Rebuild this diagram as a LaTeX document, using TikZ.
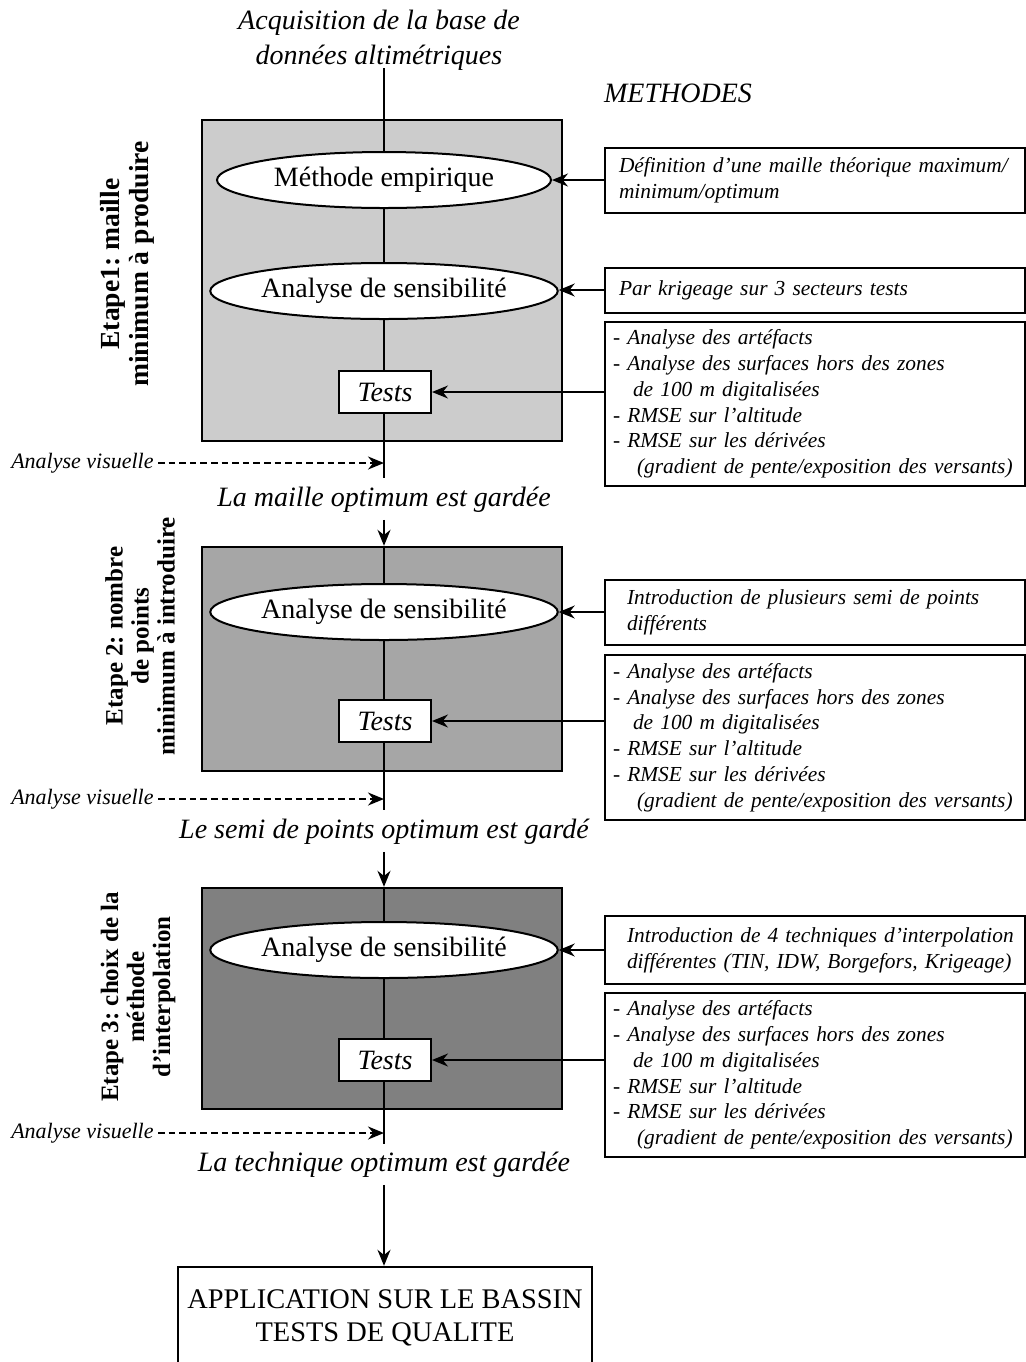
\documentclass[tikz,border=0pt]{standalone}
\usepackage{fontspec}
\setmainfont{Liberation Serif}
\usetikzlibrary{arrows.meta,shapes.geometric}
\frenchspacing

\tikzset{
  stagebox/.style={draw,line width=1.2pt,minimum width=180pt,inner sep=0pt},
  oval/.style={ellipse,draw,line width=1pt,fill=white,minimum width=167pt,
    minimum height=28pt,inner sep=0pt,font=\fontsize{14}{16}\selectfont},
  testbox/.style={draw,line width=1pt,fill=white,minimum width=46pt,
    minimum height=21pt,inner sep=0pt,font=\itshape\fontsize{14}{16}\selectfont},
  note/.style={draw,line width=1pt,anchor=west,minimum width=210pt,text width=208pt,
    inner xsep=1pt,inner ysep=0pt,align=left,font=\itshape\fontsize{10.7}{12.9}\selectfont},
  steplabel/.style={rotate=90,align=center,font=\bfseries\fontsize{12.5}{13}\selectfont},
  keep/.style={align=center,font=\itshape\fontsize{14}{17.5}\selectfont},
  visual/.style={anchor=east,inner sep=0pt,font=\itshape\fontsize{11}{12}\selectfont},
  flow/.style={line width=1pt},
  link/.style={line width=0.7pt,->},
  hint/.style={line width=1pt,dash pattern=on 3.3pt off 2pt,->},
}

\begin{document}
\begin{tikzpicture}[>={Stealth[length=8pt,width=6.5pt]},x=0.5pt,y=-0.5pt]
  \useasboundingbox (0,0) rectangle (1026,1362);
  % grey panels of the three stages
  \node[stagebox,fill=black!20,minimum height=160.5pt] (p1) at (382,280.5) {};
  \node[stagebox,fill=black!35,minimum height=112pt] (p2) at (382,659) {};
  \node[stagebox,fill=black!50,minimum height=110.5pt] (p3) at (382,998.5) {};
  % header
  \node[keep] (acq) at (379,40) {Acquisition de la base de\\données altimétriques};
  \node[keep] (meth) at (678,93) {METHODES};
  % stage labels (rotated)
  \node[steplabel,font=\bfseries\fontsize{13.8}{14.5}\selectfont] (s1) at (127,264)
    {Etape1: maille\\minimum à produire};
  \node[steplabel] (s2) at (140,636) {Etape 2: nombre\\de points\\minimum à introduire};
  \node[steplabel] (s3) at (138,997) {Etape 3: choix de la\\méthode\\d'interpolation};

  % stage 1
  \node[oval] (emp) at (384,180) {Méthode empirique};
  \node[oval] (sens1) at (384,291) {Analyse de sensibilité};
  \node[testbox] (tst1) at (385,392) {Tests};
  \coordinate (in1) at (384,68);
  \coordinate (out1) at (384,478);
  \draw[flow] (in1) -- (emp) (emp) -- (sens1) (sens1) -- (tst1.north -| in1) (tst1.south -| in1) -- (out1);
  \node[note,minimum height=32.5pt] (n1) at (604,180)
    {\hspace*{6pt}Définition d'une maille théorique maximum/\\\hspace*{6pt}minimum/optimum};
  \node[note,minimum height=22.5pt] (n2) at (604,290)
    {\hspace*{6pt}Par krigeage sur 3 secteurs tests};
  \node[note,minimum height=82pt] (n3) at (604,404)
    {\hspace*{3pt}- Analyse des artéfacts\\\hspace*{3pt}- Analyse des surfaces hors des zones\\
     \hspace*{13pt}de 100 m digitalisées\\\hspace*{3pt}- RMSE sur l'altitude\\\hspace*{3pt}- RMSE sur les dérivées\\
     \hspace*{15pt}(gradient de pente/exposition des versants)};
  \draw[link] (n1.west) -- (emp.east);
  \draw[link] (n2.west) -- (n2.west -| sens1.east);
  \draw[link] (tst1.east -| n3.west) -- (tst1.east);
  \node[visual] (av1) at (154,463) {Analyse visuelle};
  \draw[hint] (av1.east) ++(4,0) -- (av1.east -| out1);

  % stage 2
  \node[keep] (keep1) at (384,500) {La maille optimum est gardée};
  \draw[flow,->] (keep1) -- (keep1 |- p2.north);
  \node[oval] (sens2) at (384,612) {Analyse de sensibilité};
  \node[testbox] (tst2) at (385,721) {Tests};
  \coordinate (out2) at (384,810);
  \draw[flow] (sens2 |- p2.north) -- (sens2) (sens2) -- (tst2.north -| out2) (tst2.south -| out2) -- (out2);
  \node[note,minimum height=32.5pt] (n4) at (604,612)
    {\hspace*{10pt}Introduction de plusieurs semi de points\\\hspace*{10pt}différents};
  \node[note,minimum height=82.5pt] (n5) at (604,737.5)
    {\hspace*{3pt}- Analyse des artéfacts\\\hspace*{3pt}- Analyse des surfaces hors des zones\\
     \hspace*{13pt}de 100 m digitalisées\\\hspace*{3pt}- RMSE sur l'altitude\\\hspace*{3pt}- RMSE sur les dérivées\\
     \hspace*{15pt}(gradient de pente/exposition des versants)};
  \draw[link] (n4.west) -- (sens2.east);
  \draw[link] (tst2.east -| n5.west) -- (tst2.east);
  \node[visual] (av2) at (154,799) {Analyse visuelle};
  \draw[hint] (av2.east) ++(4,0) -- (av2.east -| out2);

  % stage 3
  \node[keep] (keep2) at (384,832) {Le semi de points optimum est gardé};
  \draw[flow,->] (keep2) -- (keep2 |- p3.north);
  \node[oval] (sens3) at (384,950) {Analyse de sensibilité};
  \node[testbox] (tst3) at (385,1060) {Tests};
  \coordinate (out3) at (384,1144);
  \draw[flow] (sens3 |- p3.north) -- (sens3) (sens3) -- (tst3.north -| out3) (tst3.south -| out3) -- (out3);
  \node[note,minimum height=34pt] (n6) at (604,950)
    {\hspace*{10pt}Introduction de 4 techniques d'interpolation\\\hspace*{10pt}différentes (TIN, IDW, Borgefors, Krigeage)};
  \node[note,minimum height=82pt] (n7) at (604,1075)
    {\hspace*{3pt}- Analyse des artéfacts\\\hspace*{3pt}- Analyse des surfaces hors des zones\\
     \hspace*{13pt}de 100 m digitalisées\\\hspace*{3pt}- RMSE sur l'altitude\\\hspace*{3pt}- RMSE sur les dérivées\\
     \hspace*{15pt}(gradient de pente/exposition des versants)};
  \draw[link] (n6.west) -- (sens3.east);
  \draw[link] (tst3.east -| n7.west) -- (tst3.east);
  \node[visual] (av3) at (154,1133) {Analyse visuelle};
  \draw[hint] (av3.east) ++(4,0) -- (av3.east -| out3);

  % result
  \node[keep] (keep3) at (384,1165) {La technique optimum est gardée};
  \node[draw,line width=1.2pt,minimum width=207pt,minimum height=50.5pt,align=center,
    inner xsep=1pt,font=\fontsize{14.2}{16.5}\selectfont] (appl) at (385,1317.5)
    {APPLICATION SUR LE BASSIN\\TESTS DE QUALITE};
  \draw[flow,->] (keep3) -- (keep3 |- appl.north);
\end{tikzpicture}
\end{document}
